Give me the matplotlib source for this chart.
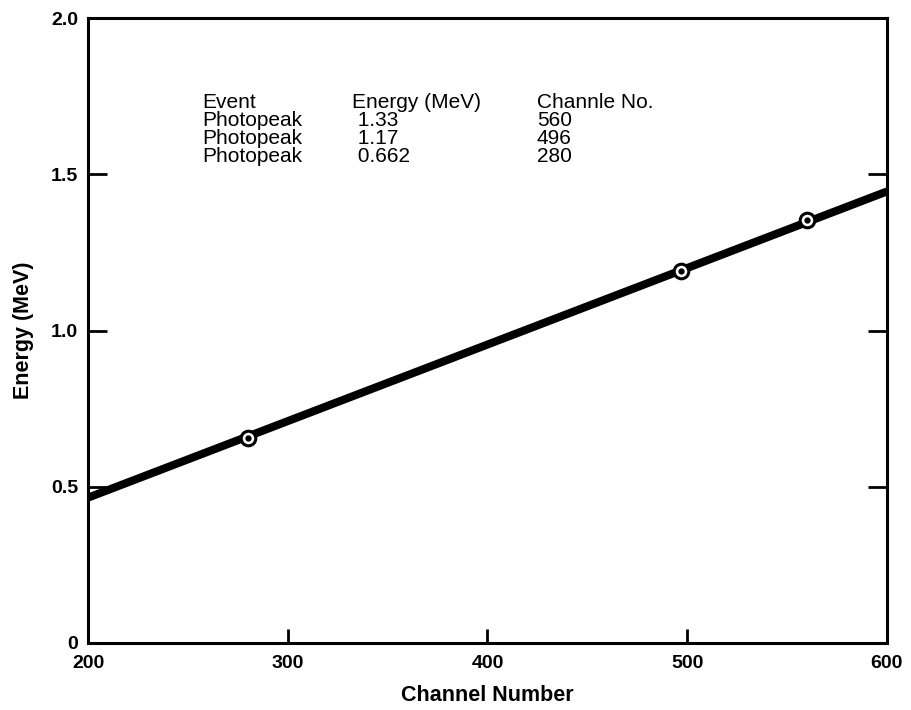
import matplotlib.pyplot as plt

# calibration line (channel -> MeV)
fit_channel = [200, 600]
fit_energy = [0.465, 1.445]

# measured photopeaks as plotted
peak_channel = [280, 497, 560]
peak_energy = [0.655, 1.19, 1.355]

# table text
table_head = ["Event", "Energy (MeV)", "Channle No."]
table_event = ["Photopeak", "Photopeak", "Photopeak"]
table_energy = ["1.33", "1.17", "0.662"]
table_channel = ["560", "496", "280"]

x_ticks = [200, 300, 400, 500, 600]
y_ticks = [0, 0.5, 1.0, 1.5, 2.0]
y_tick_labels = ["0", "0.5", "1.0", "1.5", "2.0"]

plt.rcParams['font.family'] = ['Liberation Sans', 'DejaVu Sans']

fig = plt.figure(figsize=(9.12, 7.10), dpi=100)
ax = fig.add_axes([0.0965, 0.0944, 0.876, 0.8802])

ax.plot(fit_channel, fit_energy, color='black', linewidth=5.8, solid_capstyle='butt', zorder=2)
ax.plot(peak_channel, peak_energy, linestyle='none', marker='o', markersize=10.5,
        markerfacecolor='white', markeredgecolor='black', markeredgewidth=2.2, zorder=3)
ax.plot(peak_channel, peak_energy, linestyle='none', marker='o', markersize=3.5,
        color='black', zorder=4)

ax.set_xlim(200, 600)
ax.set_ylim(0, 2.0)
ax.set_xticks(x_ticks)
ax.set_xticklabels([str(t) for t in x_ticks], fontsize=14, fontweight='bold')
ax.set_yticks(y_ticks)
ax.set_yticklabels(y_tick_labels, fontsize=14, fontweight='bold')

ax.tick_params(axis='x', direction='in', length=10, width=2, pad=9, top=False)
ax.tick_params(axis='y', direction='in', length=14, width=2, pad=7, right=True)
for s in ax.spines.values():
    s.set_linewidth(2.2)

ax.set_xlabel("Channel Number", fontsize=15.5, fontweight='bold', labelpad=9)
ax.set_ylabel("Energy (MeV)", fontsize=15.5, fontweight='bold', labelpad=12)

# table in upper left of plot, one block of text per column
col_x = [202, 352, 537]
W, H = 912, 710
cols = [[table_head[0]] + table_event,
        [table_head[1]] + [" " + e for e in table_energy],
        [table_head[2]] + table_channel]
for cx, col in zip(col_x, cols):
    fig.text(cx / W, 1 - 93 / H, "\n".join(col), fontsize=15, ha='left', va='top',
             linespacing=0.93)

fig.savefig("out.png", dpi=100)
